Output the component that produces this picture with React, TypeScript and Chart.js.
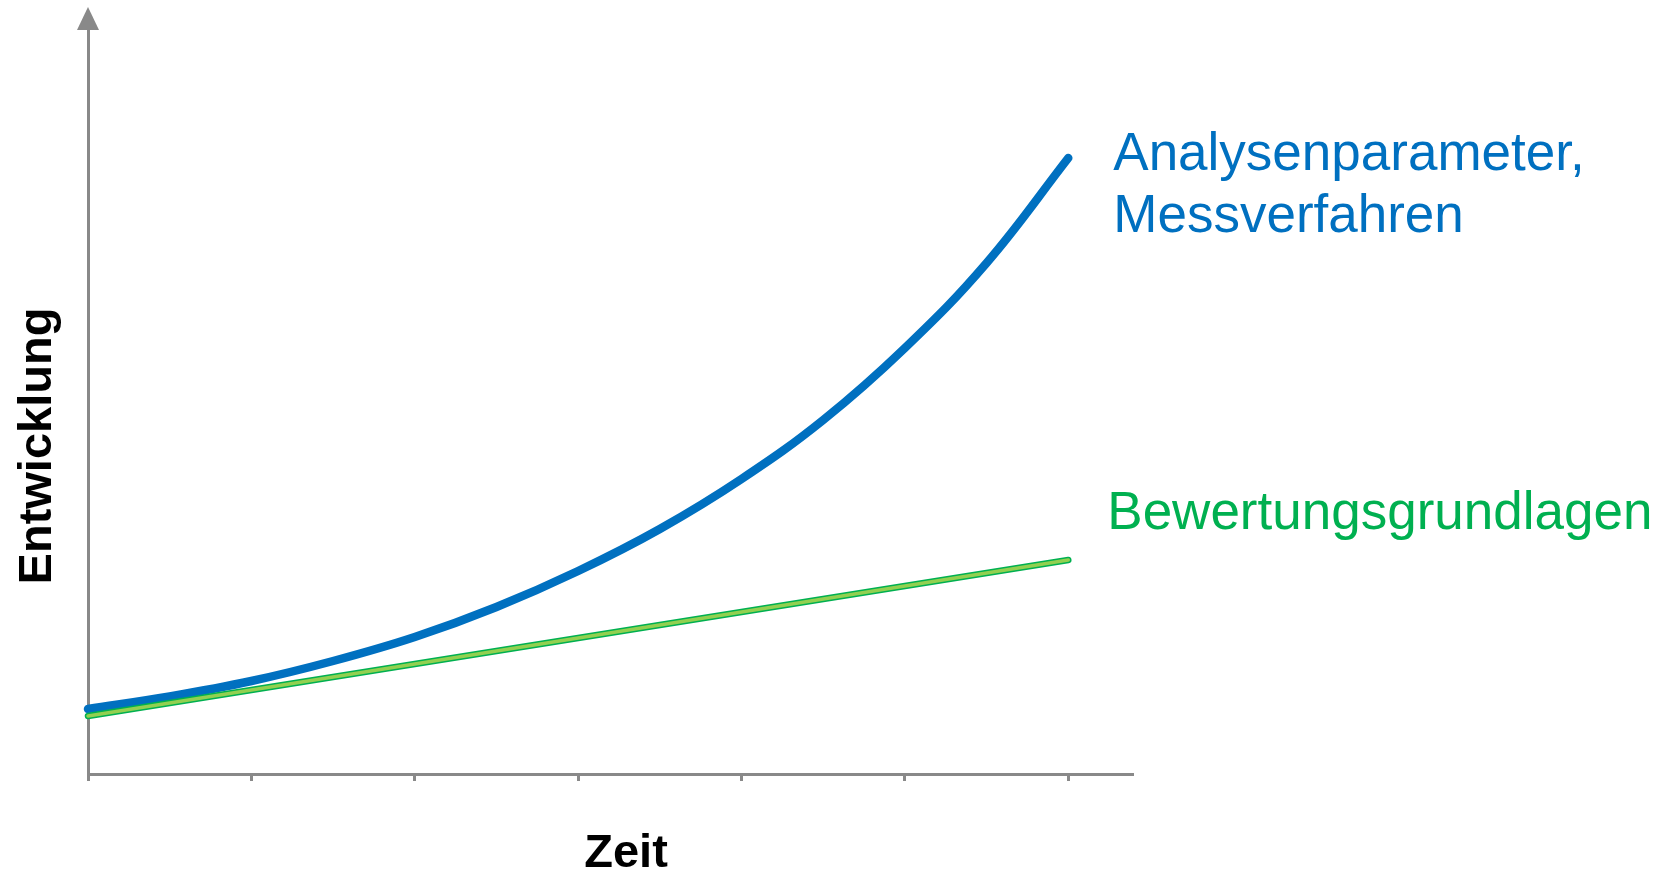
import React, { useEffect, useRef } from "react";
import { Chart, registerables } from "chart.js";

Chart.register(...registerables);

// Time in tick units (0..6), values in arbitrary "development" units above the x axis
const timeSteps = [0, 0.5, 1, 1.5, 2, 2.5, 3, 3.5, 4, 4.5, 5, 5.5, 6];
const analysenValues = [65, 77.5, 93, 113, 137, 167, 203, 245, 295, 354, 426, 511, 616];
const bewertungTimes = [0, 6];
const bewertungValues = [58, 214];
const xTickValues = [0, 1, 2, 3, 4, 5, 6];

const yAxisTitle = "Entwicklung";
const xAxisTitle = "Zeit";
const analysenLabel = ["Analysenparameter,", "Messverfahren"];
const bewertungLabel = ["Bewertungsgrundlagen"];

const AXIS_COLOR = "#898989";
const BLUE = "#0070C0";
const GREEN_TEXT = "#00B050";
const GREEN_DARK = "#00B050";
const GREEN_LIGHT = "#92D050";

const FONT = "'Liberation Sans', Arial, sans-serif";

const annotationPlugin = {
  id: "annotations",
  afterDraw(chart: any) {
    const { ctx, chartArea, scales } = chart;
    const xs = scales.x;
    const left = chartArea.left;
    const top = chartArea.top;
    ctx.save();
    // arrow head on y axis
    ctx.fillStyle = AXIS_COLOR;
    ctx.beginPath();
    ctx.moveTo(left, top - 22);
    ctx.lineTo(left - 11, top + 1);
    ctx.lineTo(left + 11, top + 1);
    ctx.closePath();
    ctx.fill();

    // axis titles
    ctx.fillStyle = "#000";
    ctx.font = `bold 47px ${FONT}`;
    ctx.textAlign = "center";
    ctx.textBaseline = "alphabetic";
    ctx.fillText(xAxisTitle, 626, 867);

    ctx.save();
    ctx.translate(51, 446);
    ctx.rotate(-Math.PI / 2);
    ctx.fillText(yAxisTitle, 0, 0);
    ctx.restore();

    // series labels
    const labelX = xs.getPixelForValue(6) + 45;
    ctx.textAlign = "left";
    ctx.font = `53px ${FONT}`;
    ctx.fillStyle = BLUE;
    ctx.fillText(analysenLabel[0], labelX, 170);
    ctx.fillText(analysenLabel[1], labelX, 232);
    ctx.fillStyle = GREEN_TEXT;
    ctx.fillText(bewertungLabel[0], labelX - 6, 529);
    ctx.restore();
  },
};

export default function App() {
  const canvasRef = useRef<HTMLCanvasElement | null>(null);

  useEffect(() => {
    const canvas = canvasRef.current;
    if (!canvas) return;
    const blueData = timeSteps.map((t, i) => ({ x: t, y: analysenValues[i] }));
    const greenData = bewertungTimes.map((t, i) => ({ x: t, y: bewertungValues[i] }));
    const chart = new Chart(canvas, {
      type: "line",
      data: {
        datasets: [
          {
            label: "Bewertungsgrundlagen",
            data: greenData,
            borderColor: GREEN_LIGHT,
            borderWidth: 3.5,
            pointRadius: 0,
            borderCapStyle: "round",
            clip: false,
          },
          {
            label: "Bewertungsgrundlagen (Rand)",
            data: greenData,
            borderColor: GREEN_DARK,
            borderWidth: 6.5,
            pointRadius: 0,
            borderCapStyle: "round",
            clip: false,
          },
          {
            label: "Analysenparameter, Messverfahren",
            data: blueData,
            borderColor: BLUE,
            borderWidth: 8.5,
            pointRadius: 0,
            borderCapStyle: "round",
            borderJoinStyle: "round",
            tension: 0.4,
            clip: false,
          },
        ],
      },
      options: {
        responsive: false,
        animation: false,
        events: [],
        layout: { padding: { left: 88, right: 538, top: 29, bottom: 93 } },
        plugins: { legend: { display: false }, tooltip: { enabled: false }, title: { display: false } },
        scales: {
          x: {
            type: "linear",
            min: 0,
            max: 6.39,
            afterBuildTicks: (scale: any) => {
              scale.ticks = xTickValues.map((v) => ({ value: v }));
            },
            ticks: { display: false, includeBounds: false, stepSize: 1 },
            grid: {
              display: true,
              drawOnChartArea: false,
              drawTicks: true,
              tickLength: 7,
              color: AXIS_COLOR,
              lineWidth: 3,
            },
            border: { display: true, color: AXIS_COLOR, width: 3 },
          },
          y: {
            type: "linear",
            min: 0,
            max: 745,
            ticks: { display: false },
            grid: { display: false, drawTicks: false },
            border: { display: true, color: AXIS_COLOR, width: 3 },
          },
        },
      },
      plugins: [annotationPlugin],
    });
    return () => chart.destroy();
  }, []);

  return (
    <div style={{ position: "fixed", left: 0, top: 0, width: 1670, height: 874, background: "#fff" }}>
      <canvas ref={canvasRef} width={1670} height={874} style={{ display: "block" }} />
    </div>
  );
}
